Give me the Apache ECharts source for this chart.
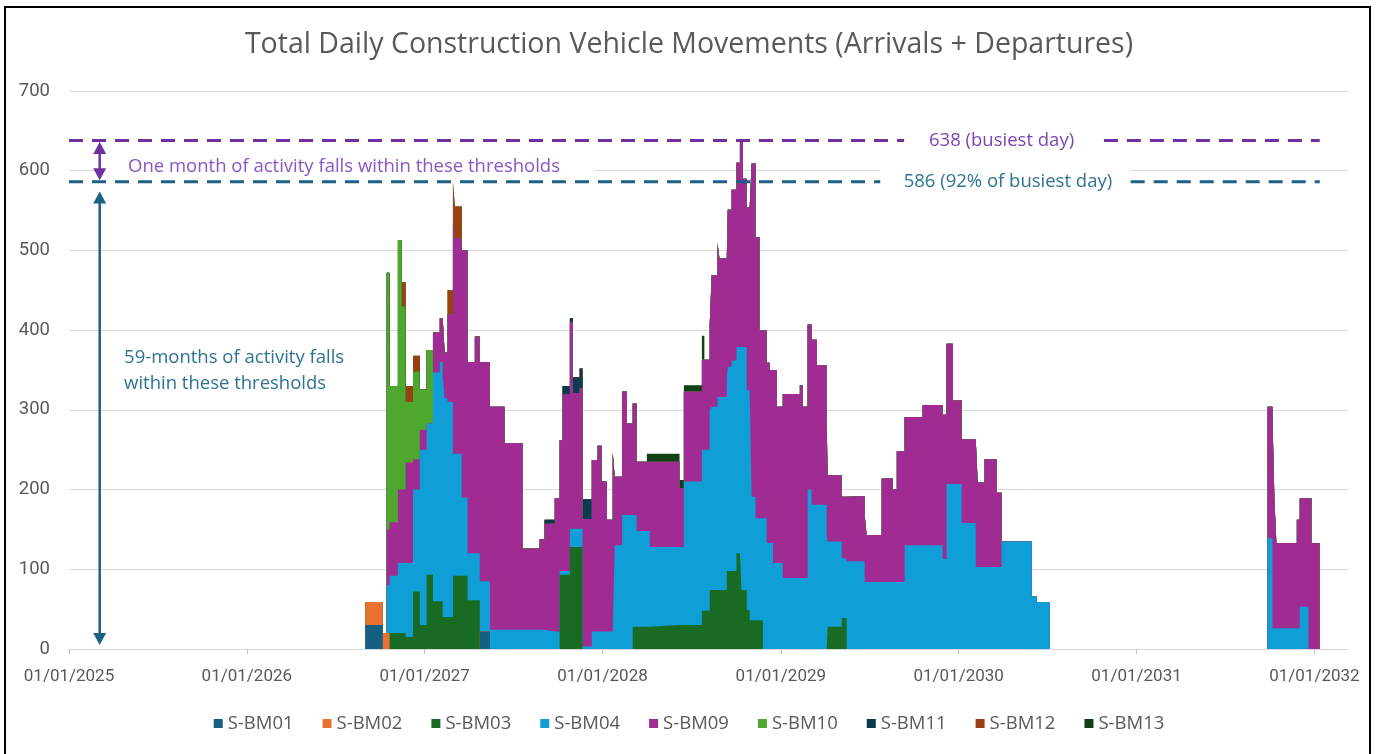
<!DOCTYPE html>
<html><head><meta charset="utf-8">
<script src="https://cdn.jsdelivr.net/npm/echarts@6/dist/echarts.min.js"></script>
<style>html,body{margin:0;padding:0;background:#fff}#c{width:1378px;height:754px}</style>
</head><body><div id="c"></div>
<script>
// ---------------- data (step values: value holds from its date until the next entry) --------------
const TITLE = 'Total Daily Construction Vehicle Movements (Arrivals + Departures)';
const SERIES_NAMES = ['S-BM01','S-BM02','S-BM03','S-BM04','S-BM09','S-BM10','S-BM11','S-BM12','S-BM13'];
const YEAR_TICKS = ['2025-01-01','2026-01-01','2027-01-01','2028-01-01','2029-01-01','2030-01-01','2031-01-01','2032-01-01'];
const AXIS_END = '2032-03-10';

const S_BM01 = [['2026-09-01',30],['2026-10-07',0],['2027-04-24',22],['2027-05-15',0]];
const S_BM02 = [['2026-09-01',29],['2026-10-07',20],['2026-10-21',0]];
const S_BM03 = [['2026-10-21',20],['2026-11-23',15],['2026-12-08',72],['2026-12-22',30],['2027-01-05',93],['2027-01-18',60],
  ['2027-02-07',40],['2027-02-28',92],['2027-03-30',61],['2027-04-24',0],['2027-10-05',93],['2027-10-26',128],['2027-11-21',0],
  ['2028-03-03',28],['2028-04-07',30],['2028-07-23',48],['2028-08-08',74],['2028-09-12',98],['2028-10-02',120],['2028-10-12',74],
  ['2028-10-23',49],['2028-10-29',36],['2028-11-25',0],['2029-04-07',28],['2029-05-06',39],['2029-05-16',0]];
const S_BM04 = [['2026-10-15',60],['2026-10-21',72],['2026-11-07',88],['2026-11-23',93],['2026-12-08',128],['2026-12-22',220],
  ['2027-01-05',190],['2027-01-18',287],['2027-02-01',300],['2027-02-11',275],['2027-02-17',270],['2027-02-28',153],['2027-03-18',98],
  ['2027-03-30',59],['2027-04-24',63],['2027-05-15',24],['2027-09-04',22],['2027-10-05',5],['2027-10-26',23],['2027-11-21',3],
  ['2027-12-10',22],['2028-01-26',130],['2028-02-10',168],['2028-03-03',140],['2028-03-11',120],['2028-04-07',98],['2028-06-16',180],
  ['2028-07-23',202],['2028-08-08',226],['2028-08-12',230],['2028-08-24',242],['2028-09-14',256],['2028-09-22',264],['2028-10-02',259],
  ['2028-10-12',305],['2028-10-23',276],['2028-10-29',289],['2028-11-02',155],['2028-11-10',128],['2028-11-25',164],['2028-12-03',133],
  ['2028-12-16',108],['2029-01-05',89],['2029-02-25',200],['2029-03-05',181],['2029-04-05',145],['2029-04-07',107],['2029-05-06',75],
  ['2029-05-16',110],['2029-06-22',84],['2029-09-12',130],['2029-11-29',113],['2029-12-07',207],['2030-01-07',158],['2030-02-05',103],
  ['2030-03-30',135],['2030-05-31',66],['2030-06-10',59],['2030-07-07',0],['2031-09-27',139],['2031-10-07',26],['2031-12-02',53],['2031-12-20',0]];
const S_BM09 = [['2026-10-15',70],['2026-10-21',67],['2026-11-07',92],['2026-11-23',126],['2026-12-08',38],['2026-12-22',25],['2027-01-05',0],
  ['2027-01-18',50],['2027-02-01',55],['2027-02-07',75],['2027-02-11',57],['2027-02-17',110],['2027-02-28',290],['2027-03-04',270],
  ['2027-03-18',310],['2027-03-30',240],['2027-04-14',272],['2027-04-24',275],['2027-05-15',280],['2027-06-14',234],['2027-07-21',102],
  ['2027-08-25',114],['2027-09-04',135],['2027-09-25',167],['2027-10-05',164],['2027-10-11',222],['2027-10-26',259],['2027-11-01',170],
  ['2027-11-15',176],['2027-11-21',160],['2027-12-10',215],['2027-12-22',233],['2027-12-30',188],['2028-01-10',140],['2028-01-22',224],
  ['2028-01-26',86],['2028-02-10',155],['2028-02-20',115],['2028-03-03',140],['2028-03-11',87],['2028-04-07',107],['2028-06-07',74],
  ['2028-06-16',113],['2028-08-08',107],['2028-08-12',165],['2028-08-24',193],['2028-08-28',174],['2028-09-12',150],['2028-09-14',197],
  ['2028-09-22',214],['2028-10-02',231],['2028-10-09',259],['2028-10-15',211],['2028-10-23',229],['2028-11-02',418],['2028-11-10',353],
  ['2028-11-18',236],['2028-12-03',226],['2028-12-09',217],['2028-12-16',242],['2028-12-24',196],['2029-01-05',231],['2029-02-09',242],
  ['2029-02-15',215],['2029-02-25',207],['2029-03-16',175],['2029-04-05',140],['2029-04-07',83],['2029-05-06',77],['2029-05-16',82],
  ['2029-06-22',84],['2029-06-26',59],['2029-07-27',130],['2029-08-19',116],['2029-08-27',164],['2029-09-12',161],['2029-10-19',176],
  ['2029-11-29',181],['2029-12-07',176],['2029-12-20',105],['2030-02-05',160],['2030-02-09',106],['2030-02-23',135],['2030-03-20',93],
  ['2030-03-30',0],['2031-09-27',165],['2031-10-07',264],['2031-10-11',161],['2031-10-15',107],['2031-11-26',136],['2031-12-20',189],
  ['2031-12-26',133],['2032-01-12',0]];
const S_BM10 = [['2026-10-15',322],['2026-10-21',171],['2026-11-07',313],['2026-11-15',230],['2026-11-23',76],['2026-12-08',110],
  ['2026-12-22',51],['2027-01-05',92],['2027-01-18',0]];
const S_BM11 = [['2027-09-04',5],['2027-09-25',0],['2027-10-11',10],['2027-10-26',5],['2027-11-01',20],['2027-11-15',25],['2027-12-10',0]];
const S_BM12 = [['2026-11-15',30],['2026-11-23',20],['2026-12-22',0],['2027-02-17',30],['2027-02-28',50],['2027-03-04',40],['2027-03-18',0]];
const S_BM13 = [['2028-04-01',10],['2028-06-16',8],['2028-07-23',30],['2028-07-28',0]];

const BUSIEST = 638;
const THRESHOLD = 586;
const BUSIEST_LABEL = '638 (busiest day)';
const THRESHOLD_LABEL = '586 (92% of busiest day)';
const MONTH_NOTE = 'One month of activity falls within these thresholds';
const MONTHS_NOTE = ['59-months of activity falls', 'within these thresholds'];

// ---------------- styles ----------------
const COLORS = ['#156082','#E97132','#196B24','#0F9ED5','#A02B93','#4EA72E','#0D3A4E','#994111','#0F4016'];
const FONT = '"Open Sans", "Liberation Sans", sans-serif';
const GREY = '#595959';

// ---------------- build ----------------
const START = Date.UTC(2025,0,1);
function dayOf(s){ const p = s.split('-').map(Number); return (Date.UTC(p[0],p[1]-1,p[2]) - START)/86400000; }
function fmt(day){ const d = new Date(START + Math.round(day)*86400000);
  const dd = String(d.getUTCDate()).padStart(2,'0'), mm = String(d.getUTCMonth()+1).padStart(2,'0');
  return dd + '/' + mm + '/' + d.getUTCFullYear(); }

const RAW = [S_BM01,S_BM02,S_BM03,S_BM04,S_BM09,S_BM10,S_BM11,S_BM12,S_BM13];
const allDays = new Set([0, dayOf(AXIS_END)]);
RAW.forEach(a => a.forEach(p => allDays.add(dayOf(p[0]))));
const GRID_DAYS = Array.from(allDays).sort((a,b)=>a-b);
function valueAt(arr, day){ let v = 0; for (const p of arr){ if (dayOf(p[0]) <= day) v = p[1]; else break; } return v; }
// cumulative (stacked) table, series in legend order from the bottom up
const CUM = GRID_DAYS.map(d => { let s = 0; return RAW.map(a => (s += valueAt(a, d))); });

const tickDays = YEAR_TICKS.map(dayOf);

const series = SERIES_NAMES.map((name,i) => ({
  name, type:'line', step:'end', symbol:'none', showSymbol:false,
  lineStyle:{width:0}, itemStyle:{color:COLORS[i]}, areaStyle:{color:COLORS[i], opacity:1, origin:'start'},
  emphasis:{disabled:true}, silent:true, z: 12 - i,
  data: GRID_DAYS.map((d,k) => [d, CUM[k][i]])
}));

const chart = echarts.init(document.getElementById('c'), null, {renderer:'canvas'});
chart.setOption({
  animation:false, backgroundColor:'#fff',
  textStyle:{fontFamily:FONT},
  title:{text:TITLE, left:'center', top:25, textStyle:{fontFamily:FONT, fontSize:28.5, fontWeight:'normal', color:GREY}},
  grid:{left:69, right:30, top:91, bottom:105, containLabel:false},
  legend:{data:SERIES_NAMES, bottom:16, left:'center', icon:'rect', itemWidth:9, itemHeight:9, itemGap:29,
    textStyle:{fontFamily:FONT, fontSize:18.5, color:GREY}},
  xAxis:{type:'value', min:0, max:dayOf(AXIS_END),
    axisLine:{show:true, lineStyle:{color:'#d9d9d9', width:1}},
    axisTick:{show:true, customValues:tickDays, length:5, lineStyle:{color:'#bfbfbf'}},
    axisLabel:{customValues:tickDays, formatter:v=>fmt(v), color:GREY, fontSize:17, fontFamily:'Roboto, sans-serif', margin:19},
    splitLine:{show:false}},
  yAxis:{type:'value', min:0, max:700, interval:100,
    axisLine:{show:false}, axisTick:{show:false},
    axisLabel:{color:GREY, fontSize:18.5, fontFamily:'Roboto, sans-serif', margin:19},
    splitLine:{lineStyle:{color:'#d9d9d9', width:1}}},
  series
});

// ---------------- annotations, placed through the chart's own scales ----------------
function P(day, v){ return chart.convertToPixel({gridIndex:0}, [day, v]); }
const PURPLE = '#7030A0', TEAL = '#1D6184';
const NOTE_FONT = '18.5px ' + FONT;
const dash = [14, 9];
const g = [];
function hline(d0, d1, v, color){
  const a = P(d0, v), b = P(d1, v);
  g.push({type:'line', z:20, shape:{x1:a[0], y1:a[1], x2:b[0], y2:b[1]}, style:{stroke:color, lineWidth:3, lineDash:dash}});
}
function arrow(day, vTop, vBot, color){
  const t = P(day, vTop), b = P(day, vBot), hw = 6.5, hh = 12;
  g.push({type:'line', z:20, shape:{x1:t[0], y1:t[1]+hh-1, x2:b[0], y2:b[1]-hh+1}, style:{stroke:color, lineWidth:2.5}});
  g.push({type:'polygon', z:20, shape:{points:[[t[0],t[1]],[t[0]-hw,t[1]+hh],[t[0]+hw,t[1]+hh]]}, style:{fill:color}});
  g.push({type:'polygon', z:20, shape:{points:[[b[0],b[1]],[b[0]-hw,b[1]-hh],[b[0]+hw,b[1]-hh]]}, style:{fill:color}});
}
const endDay = dayOf('2032-01-12');
// busiest-day line with its label in a gap
hline(0, dayOf('2029-09-11'), BUSIEST, PURPLE);
hline(dayOf('2030-10-26'), endDay, BUSIEST, PURPLE);
const lb = P(dayOf('2030-03-30'), BUSIEST);
g.push({type:'text', z:21, x:lb[0], y:lb[1], style:{text:BUSIEST_LABEL, fill:'#7B45B5', font:NOTE_FONT, align:'center', verticalAlign:'middle'}});
// threshold line
const gapA = P(dayOf('2029-07-24'), 600), gapB = P(dayOf('2030-12-20'), 600);
g.push({type:'rect', z:15, shape:{x:gapA[0], y:gapA[1]-3, width:gapB[0]-gapA[0], height:24}, style:{fill:'#fff'}});
hline(0, dayOf('2029-07-24'), THRESHOLD, TEAL);
hline(dayOf('2030-12-20'), endDay, THRESHOLD, TEAL);
const lt = P(dayOf('2030-04-12'), THRESHOLD);
g.push({type:'text', z:21, x:lt[0], y:lt[1], style:{text:THRESHOLD_LABEL, fill:'#2E7393', font:NOTE_FONT, align:'center', verticalAlign:'middle'}});
// note between the two lines (white box hides the 600 gridline behind it)
const na = P(dayOf('2025-03-20'), 605), nb = P(dayOf('2027-12-15'), 605);
g.push({type:'rect', z:1, shape:{x:na[0]-8, y:na[1]-11, width:nb[0]-na[0]+8, height:22}, style:{fill:'#fff'}});
g.push({type:'text', z:21, x:na[0]+21, y:na[1], style:{text:MONTH_NOTE, fill:'#8A55C4', font:NOTE_FONT, align:'left', verticalAlign:'middle'}});
// arrows
const arrowDay = dayOf('2025-03-05');
arrow(arrowDay, 636, 588, PURPLE);
arrow(arrowDay, 574, 5, TEAL);
// 59 months note
const m1 = P(dayOf('2025-04-24'), 366), m2 = P(dayOf('2025-04-24'), 333);
g.push({type:'text', z:21, x:m1[0], y:m1[1], style:{text:MONTHS_NOTE[0], fill:'#2E7393', font:NOTE_FONT, align:'left', verticalAlign:'middle'}});
g.push({type:'text', z:21, x:m2[0], y:m2[1], style:{text:MONTHS_NOTE[1], fill:'#2E7393', font:NOTE_FONT, align:'left', verticalAlign:'middle'}});
// outer frame
g.push({type:'rect', z:30, shape:{x:5, y:7, width:1365, height:760}, style:{fill:'none', stroke:'#000', lineWidth:2}});
chart.setOption({graphic:g});
</script></body></html>
